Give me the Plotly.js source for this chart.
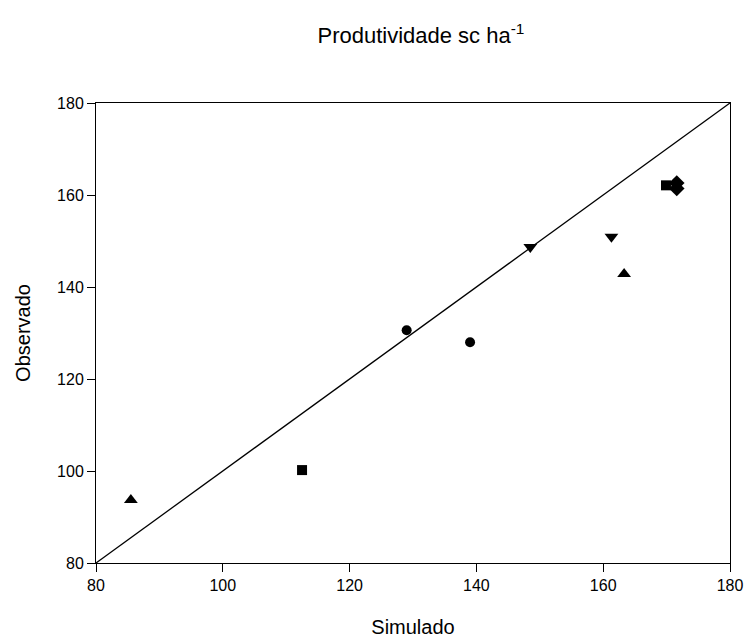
<!DOCTYPE html>
<html>
<head>
<meta charset="utf-8">
<script src="https://cdn.plot.ly/plotly-3.0.1.min.js"></script>
<style>html,body{margin:0;padding:0;background:#fff;}</style>
</head>
<body>
<div id="chart" style="width:749px;height:641px;"></div>
<script>
// Data (Simulado vs Observado)
const circleX = [129.0, 139.0];
const circleY = [130.6, 128.0];
const triDownX = [148.5, 161.3];
const triDownY = [148.7, 150.9];
const squareX = [112.5, 169.9];
const squareY = [100.2, 162.1];
const triUpX = [85.5, 163.3];
const triUpY = [93.7, 142.8];
const diamondX = [171.6, 171.6];
const diamondY = [162.6, 161.4];
const lineX = [80, 180];
const lineY = [80, 180];

const FONT = 'Liberation Sans, Arial, sans-serif';

const mk = (x, y, sym, size) => ({
  x: x, y: y, type: 'scatter', mode: 'markers', showlegend: false,
  marker: {symbol: sym, size: size, color: '#000', line: {width: 0}},
  cliponaxis: false
});

const traces = [
  {x: lineX, y: lineY, type: 'scatter', mode: 'lines', showlegend: false,
   line: {color: '#000', width: 1.3}},
  mk(circleX, circleY, 'circle', 10),
  mk(triDownX, triDownY, 'triangle-down', 12),
  mk(squareX, squareY, 'square', 10),
  mk(triUpX, triUpY, 'triangle-up', 12),
  mk(diamondX, diamondY, 'diamond', 12)
];

const axisCommon = {
  range: [80, 180], dtick: 20, tick0: 80,
  showgrid: false, zeroline: false,
  showline: true, linecolor: '#000', linewidth: 1, mirror: true,
  ticks: 'outside', ticklen: 8, tickwidth: 1, tickcolor: '#000',
  tickfont: {family: FONT, size: 16, color: '#000'}
};

const layout = {
  width: 749, height: 641,
  margin: {l: 96, r: 19, t: 103, b: 78},
  paper_bgcolor: '#fff', plot_bgcolor: '#fff',
  title: {text: 'Produtividade sc ha<sup>-1</sup>', x: 0.562, xanchor: 'center', y: 0.945, yanchor: 'middle',
          font: {family: FONT, size: 22, color: '#000'}},
  xaxis: Object.assign({}, axisCommon, {
    title: {text: 'Simulado', standoff: 26, font: {family: FONT, size: 20, color: '#000'}}
  }),
  yaxis: Object.assign({}, axisCommon, {
    title: {text: 'Observado', standoff: 21, font: {family: FONT, size: 20, color: '#000'}}
  })
};

Plotly.newPlot('chart', traces, layout, {displayModeBar: false, staticPlot: true});
</script>
</body>
</html>
